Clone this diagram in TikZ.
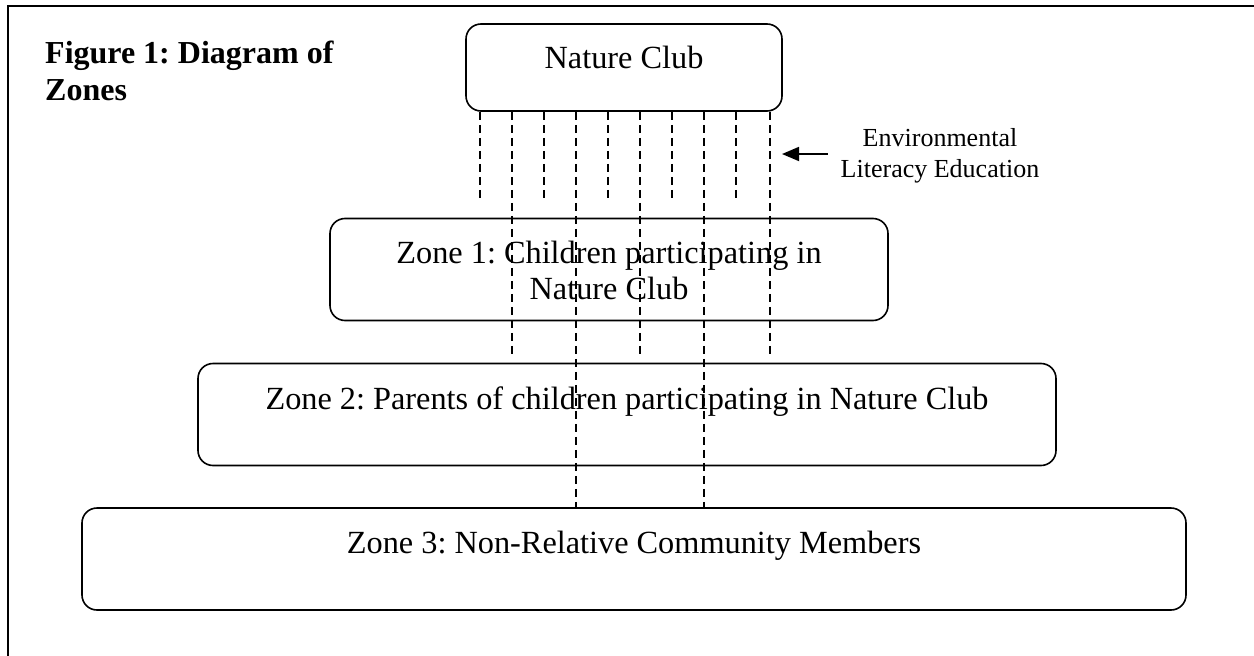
\documentclass[tikz,border=0pt]{standalone}
\usepackage{fontspec}
\setmainfont{Liberation Serif}
\usetikzlibrary{arrows.meta,calc}
\begin{document}
\frenchspacing
\begin{tikzpicture}[x=1pt,y=-1pt,
  zonebox/.style={draw, line width=1.6pt, rounded corners=15pt, inner sep=0pt},
  zonetext/.style={inner sep=0pt, anchor=base, align=center, font=\fontsize{32.3}{36}\selectfont},
  dashline/.style={line width=1.4pt, dash pattern=on 8pt off 5pt},
  framel/.style={line width=2.4pt},
  arr/.style={line width=1.8pt, -{Triangle[length=17pt,width=14pt]}}]
\useasboundingbox (0,0) rectangle (1254,656);
% frame
\draw[framel] (8,656) -- (8,6) -- (1254,6);
% title (base = last line)
\node[inner sep=0pt, anchor=base west, align=left, font=\fontsize{32}{37}\selectfont\bfseries] (title) at (45,100) {Figure 1: Diagram of\\Zones};
% boxes
\node[zonebox, minimum width=316pt, minimum height=87pt] (nc) at (624,67.5) {};
\node[zonebox, minimum width=558pt, minimum height=102pt] (z1) at (609,269.5) {};
\node[zonebox, minimum width=858pt, minimum height=102pt] (z2) at (627,414.5) {};
\node[zonebox, minimum width=1104pt, minimum height=102pt] (z3) at (634,559) {};
% texts
\node[zonetext] (tnc) at (624,68) {Nature Club};
\node[zonetext] (tz1) at (609,299) {Zone 1: Children participating in\\Nature Club};
\node[zonetext] (tz2) at (627,409) {Zone 2: Parents of children participating in Nature Club};
\node[zonetext] (tz3) at (634,553) {Zone 3: Non-Relative Community Members};
% dashed line positions
\foreach \i/\x in {1/480,2/512,3/544,4/576,5/608,6/640,7/672,8/704,9/736,10/770}
  \coordinate (d\i) at (\x,0);
% short lines
\foreach \i in {1,3,5,7,9}
  \draw[dashline] (nc.south -| d\i) -- ($(d\i |- z1.north)+(0,-15)$);
% lines through zone 1
\foreach \i in {2,6,10}
  \draw[dashline] (nc.south -| d\i) -- ($(d\i |- z2.north)+(0,-6)$);
% lines through zones 1 and 2
\foreach \i in {4,8}
  \draw[dashline] (nc.south -| d\i) -- (d\i |- z3.north);
% label and arrow (base = last line)
\node[inner sep=0pt, anchor=base, align=center, font=\fontsize{26}{31}\selectfont] (ele) at (940,177) {Environmental\\Literacy Education};
\coordinate (tip) at (782,154);
\coordinate (tail) at ($(ele.west)+(-13,0)$);
\draw[arr] (tip -| tail) -- (tip);
\end{tikzpicture}
\end{document}
